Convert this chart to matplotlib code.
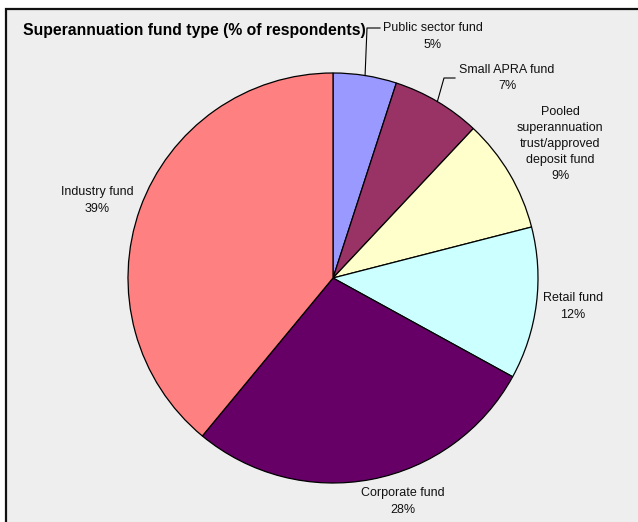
import numpy as np
import matplotlib
matplotlib.use("Agg")
import matplotlib.pyplot as plt
from matplotlib.patches import Rectangle

plt.rcParams['font.family'] = ['Liberation Sans', 'DejaVu Sans']

# Survey shares by fund type (% of respondents)
fund_types = ["Public sector fund", "Small APRA fund",
              "Pooled\nsuperannuation\ntrust/approved\ndeposit fund",
              "Retail fund", "Corporate fund", "Industry fund"]
shares = [5, 7, 9, 12, 28, 39]
slice_colors = ["#9999FF", "#993366", "#FFFFCC", "#CCFFFF", "#660066", "#FF8080"]

W, H = 638, 522
fig = plt.figure(figsize=(W / 100, H / 100), dpi=100)
fig.patch.set_facecolor("white")
ax = fig.add_axes([0, 0, 1, 1])

# chart area panel with its top and left border
ax.add_patch(Rectangle((6, -20), W + 20, (H - 9) + 20, facecolor="#EEEEEE",
                       edgecolor="none", zorder=0))
ax.plot([6, 6, W + 5], [-5, H - 9, H - 9], color="#111111", lw=1.6,
        solid_joinstyle="miter", zorder=1)

cx, cy, r = 333, H - 278, 205
wedges, _ = ax.pie(shares, colors=slice_colors, startangle=90, counterclock=False,
                   center=(cx, cy), radius=r, frame=True,
                   wedgeprops=dict(edgecolor="black", linewidth=0.9))
for w in wedges:
    w.set_zorder(2)

ax.set_xlim(0, W)
ax.set_ylim(0, H)
ax.set_aspect("auto")
ax.axis("off")

ax.text(23, H - 30, "Superannuation fund type (% of respondents)",
        fontsize=11.3, fontweight="bold", ha="left", va="center", color="black")

# label anchor positions (pixel coords from top-left)
label_pos = [(433, 36.5), (507, 78), (560, 144), (573, 306.5), (403, 501.5), (97, 200.5)]
label_kw = dict(fontsize=9, ha="center", va="center", color="#111111", linespacing=1.47)
for name, val, (px, py) in zip(fund_types, shares, label_pos):
    ax.text(px, H - py, f"{name}\n{val}%", **label_kw)

# leader lines for the two small slices
elbows = [(367, 28, 380), (444, 78, 455)]
cum = np.cumsum([0] + shares[:-1])
for i, (ex, ey, endx) in enumerate(elbows):
    mid = np.deg2rad(90 - (cum[i] + shares[i] / 2) * 3.6)
    sx, sy = cx + r * np.cos(mid), cy + r * np.sin(mid)
    ax.plot([sx, ex, endx], [sy, H - ey, H - ey], color="black", lw=0.8, zorder=3)

fig.savefig("out.png", dpi=100, facecolor=fig.get_facecolor())
